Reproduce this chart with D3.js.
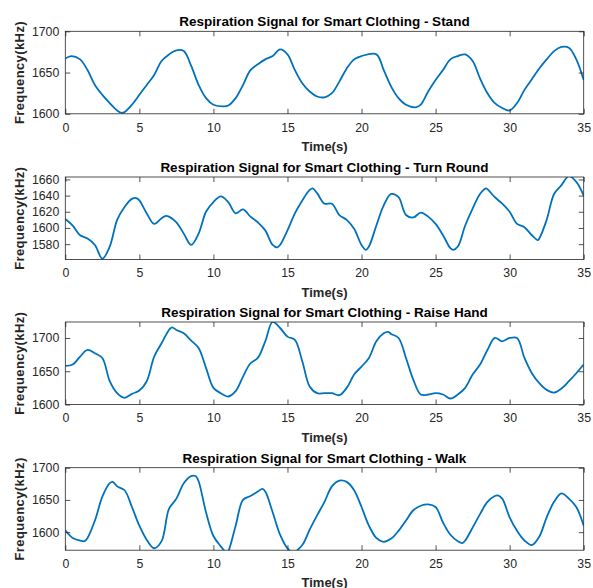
<!DOCTYPE html>
<html><head><meta charset="utf-8">
<script src="https://cdn.jsdelivr.net/npm/d3@7/dist/d3.min.js"></script>
<style>
body{margin:0;background:#fff;}
svg{display:block;font-family:"Liberation Sans",Arial,sans-serif;}
</style></head>
<body><svg id="c" width="593" height="588"></svg>
<script>
const titles = ["Respiration Signal for Smart Clothing - Stand","Respiration Signal for Smart Clothing - Turn Round","Respiration Signal for Smart Clothing - Raise Hand","Respiration Signal for Smart Clothing - Walk"];
const xTicks = [0,5,10,15,20,25,30,35];
const yTicksStand = [1600,1650,1700];
const yTicksTurn = [1580,1600,1620,1640,1660];
const yTicksRaise = [1600,1650,1700];
const yTicksWalk = [1600,1650,1700];
const yDomains = [[1600,1700],[1561,1663],[1600,1724],[1572,1700]];

const timeStand = [0,0.4,1,1.5,2,2.5,3,3.5,3.8,4,4.5,5,5.5,6,6.5,7,7.5,8,8.5,9,9.5,10,10.7,11,11.5,12,12.5,13,13.5,14,14.5,15,15.5,16,16.5,17,17.5,18,18.5,19,19.5,20,21,21.5,22,22.5,23,23.7,24,24.5,25,25.5,26,26.5,27,27.5,28,28.5,29,29.5,30,30.5,31,31.5,32,32.5,33,33.5,34,34.5,35];
const freqStand = [1667,1670,1666,1653,1635,1623,1613,1604,1601,1602,1611,1623,1635,1647,1664,1672,1677,1676,1658,1635,1619,1611,1609,1610,1619,1635,1653,1660,1666,1670,1678,1672,1653,1637,1627,1621,1620,1625,1639,1655,1666,1670,1672,1653,1633,1619,1611,1608,1611,1627,1641,1653,1666,1670,1672,1664,1643,1625,1613,1607,1604,1613,1629,1642,1655,1666,1676,1681,1680,1666,1641];

const timeTurn = [0,0.5,1,1.5,2,2.5,3,3.5,4,4.5,4.8,5,5.5,6,6.5,6.8,7,7.5,8,8.5,9,9.5,10,10.5,11,11.5,12,12.5,13,13.5,14,14.3,14.5,15,15.5,16,16.5,16.7,17,17.5,18,18.5,19,19.5,20,20.3,20.5,21,21.5,22,22.5,23,23.5,24,24.5,25,25.5,26,26.2,26.5,27,27.5,28,28.4,28.5,29,29.5,30,30.5,31,31.5,31.9,32,32.5,33,33.5,34,34.5,35];
const freqTurn = [1611,1603,1591,1587,1579,1562,1577,1610,1626,1636,1637,1634,1618,1605,1612,1615,1614,1607,1593,1579,1593,1620,1632,1639,1632,1618,1623,1614,1607,1597,1579,1576,1579,1597,1618,1634,1647,1649,1643,1630,1630,1616,1610,1599,1579,1573,1577,1603,1628,1642,1638,1616,1613,1619,1614,1605,1591,1575,1573,1577,1603,1624,1642,1649,1648,1638,1630,1620,1605,1601,1591,1585,1587,1610,1642,1653,1664,1657,1640];

const timeRaise = [0,0.5,1,1.5,2,2.5,3,3.5,4,4.5,5,5.5,6,6.5,7,7.2,7.5,8,8.5,9,9.5,10,10.5,11,11.5,12,12.5,13,13.5,14,14.5,15,15.5,16,16.5,17,17.5,18,18.5,19,19.5,20,20.5,21,21.5,21.8,22,22.5,23,23.5,24,24.5,25,25.5,26,26.5,27,27.5,28,28.5,29,29.5,30,30.5,31,31.5,32,32.5,33,33.5,34,34.5,35];
const freqRaise = [1658,1660,1672,1682,1677,1670,1635,1617,1610,1616,1621,1635,1672,1692,1712,1716,1712,1707,1696,1685,1655,1625,1617,1612,1620,1642,1662,1670,1695,1724,1715,1702,1697,1665,1627,1617,1617,1617,1614,1625,1645,1657,1670,1695,1707,1709,1706,1700,1670,1637,1615,1615,1617,1615,1609,1615,1625,1645,1660,1682,1700,1695,1700,1700,1670,1647,1632,1622,1618,1624,1635,1647,1660];

const timeWalk = [0,0.5,1,1.3,1.5,2,2.5,3,3.2,3.5,4,4.5,5,5.5,6,6.5,7,7.5,8,8.5,8.8,9,9.5,10,10.5,10.9,11,11.5,12,12.5,13,13.3,13.5,14,14.5,15,15.4,16,16.5,17,17.5,18,18.5,19,19.5,20,20.5,21,21.5,22,22.5,23,23.5,24,24.5,25,25.5,26,26.5,26.8,27,27.5,28,28.5,29,29.2,29.5,30,30.5,31,31.5,32,32.5,33,33.5,34,34.5,35];
const freqWalk = [1603,1591,1587,1586,1591,1618,1655,1676,1678,1671,1665,1639,1610,1588,1575,1586,1636,1652,1676,1687,1687,1679,1631,1594,1578,1568,1570,1610,1650,1656,1663,1667,1663,1631,1596,1575,1569,1580,1604,1626,1647,1671,1680,1678,1665,1639,1610,1591,1585,1590,1602,1618,1634,1641,1643,1639,1615,1596,1586,1583,1587,1607,1628,1647,1656,1657,1652,1623,1602,1587,1580,1593,1623,1647,1660,1652,1639,1610];

const series = [
  {t: timeStand, v: freqStand, ticks: yTicksStand},
  {t: timeTurn, v: freqTurn, ticks: yTicksTurn},
  {t: timeRaise, v: freqRaise, ticks: yTicksRaise},
  {t: timeWalk, v: freqWalk, ticks: yTicksWalk}
];

const svg = d3.select("#c");
const left = 65.3, right = 583.7, plotH = 82.5;
const tops = [31.3, 177, 322, 467.7];
const axisColor = "#262626";
const x = d3.scaleLinear().domain([0,35]).range([left,right]);

series.forEach((s, i) => {
  const top = tops[i], bottom = top + plotH;
  const y = d3.scaleLinear().domain(yDomains[i]).range([bottom, top]);
  const g = svg.append("g");
  const cid = "clip" + i;
  svg.append("defs").append("clipPath").attr("id", cid)
    .append("rect").attr("x", left).attr("y", top).attr("width", right-left).attr("height", plotH);

  const line = d3.line().x((d,j)=>x(s.t[j])).y(d=>y(d)).curve(d3.curveCatmullRom.alpha(0.5));
  g.append("path").datum(s.v).attr("d", line)
    .attr("clip-path", `url(#${cid})`)
    .attr("fill","none").attr("stroke","#0072BD").attr("stroke-width",1.8).attr("stroke-linejoin","round");

  const ax = d3.axisBottom(x).tickValues(xTicks).tickSize(-5).tickPadding(9).tickFormat(d3.format("d"));
  const axT = d3.axisTop(x).tickValues(xTicks).tickSize(-5).tickFormat("");
  const ay = d3.axisLeft(y).tickValues(s.ticks).tickSize(-5).tickPadding(6).tickFormat(d3.format("d"));
  const ayR = d3.axisRight(y).tickValues(s.ticks).tickSize(-5).tickFormat("");
  const gx = g.append("g").attr("transform", `translate(0,${bottom})`).call(ax);
  const gxt = g.append("g").attr("transform", `translate(0,${top})`).call(axT);
  const gy = g.append("g").attr("transform", `translate(${left},0)`).call(ay);
  const gyr = g.append("g").attr("transform", `translate(${right},0)`).call(ayR);
  [gx,gxt,gy,gyr].forEach(a => {
    a.select(".domain").remove();
    a.selectAll("line").attr("stroke", axisColor).attr("stroke-width", 0.8);
    a.selectAll("text").attr("fill", axisColor).style("font-size","12.3px").style("font-family","'Liberation Sans',Arial,sans-serif");
  });
  g.append("rect").attr("x", left).attr("y", top).attr("width", right-left).attr("height", plotH)
    .attr("fill","none").attr("stroke", axisColor).attr("stroke-width", 0.8);

  g.append("text").attr("x", (left+right)/2).attr("y", top - 5).attr("text-anchor","middle")
    .attr("fill","#000").style("font-weight","bold").style("font-size","13.5px").text(titles[i]);
  g.append("text").attr("x", (left+right)/2).attr("y", Math.min(bottom + 37.5, 586.5)).attr("text-anchor","middle")
    .attr("fill", axisColor).style("font-weight","bold").style("font-size","13px").text("Time(s)");
  g.append("text").attr("transform", `translate(24,${top + plotH/2}) rotate(-90)`).attr("text-anchor","middle")
    .attr("fill", axisColor).style("font-weight","bold").style("font-size","13px").style("letter-spacing","0.4px").text("Frequency(kHz)");
});
</script></body></html>
